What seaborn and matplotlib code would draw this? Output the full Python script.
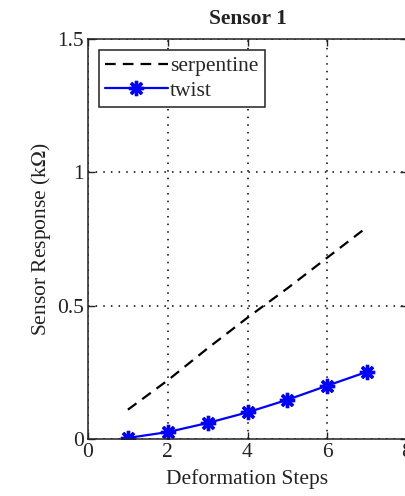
import matplotlib
matplotlib.use("Agg")
import matplotlib.pyplot as plt
import seaborn as sns
import pandas as pd
import numpy as np

steps = [1, 2, 3, 4, 5, 6, 7]
serpentine = [0.11, 0.22, 0.34, 0.455, 0.565, 0.68, 0.795]
twist = [0.004, 0.026, 0.06, 0.10, 0.147, 0.20, 0.252]
x_ticks = [0, 2, 4, 6, 8]
y_ticks = [0, 0.5, 1, 1.5]
y_tick_labels = ["0", "0.5", "1", "1.5"]

sns.set_style("ticks")
plt.rcParams['font.family'] = ['Liberation Serif', 'DejaVu Serif']
plt.rcParams['mathtext.fontset'] = 'stix'

df = pd.DataFrame({
    "step": steps * 2,
    "value": serpentine + twist,
    "series": ["serpentine"] * len(steps) + ["twist"] * len(steps),
})

fig = plt.figure(figsize=(4.05, 4.96), dpi=100)
ax = fig.add_axes([88 / 405, 1 - 439 / 496, (407 - 88) / 405, (439 - 39) / 496])

sns.lineplot(data=df[df.series == "serpentine"], x="step", y="value", ax=ax,
             color="black", linewidth=1.6, label="serpentine")
sns.lineplot(data=df[df.series == "twist"], x="step", y="value", ax=ax,
             color="#0000ff", linewidth=1.6, label="twist")
ax.lines[0].set_dashes((4.8, 3.2))
tl = ax.lines[1]
tl.set_marker((8, 2, 0))
tl.set_markersize(11)
tl.set_markeredgewidth(2.4)
tl.set_markeredgecolor("#0000ff")
tl.set_markerfacecolor("#0000ff")

ax.set_xlim(0, 8)
ax.set_ylim(0, 1.5)
ax.set_xticks(x_ticks)
ax.set_yticks(y_ticks)
ax.set_yticklabels(y_tick_labels)
ax.grid(True, color="black", linestyle=(0, (1, 4)), linewidth=1.1)
ax.tick_params(direction="in", top=True, right=True, length=5, width=1,
               labelsize=15.5, colors="#222222", labelcolor="#222222", pad=3)
for s in ax.spines.values():
    s.set_color("#222222")
    s.set_linewidth(1.1)

ax.set_xlabel("Deformation Steps", fontsize=15.5, color="#222222", labelpad=5)
ax.set_ylabel("Sensor Response (k$\\Omega$)", fontsize=15.5, color="#222222", labelpad=3)
ax.set_title("Sensor 1", fontsize=15.5, fontweight="bold", color="#222222", pad=11)

leg = ax.legend(loc="upper left", fontsize=15.5, frameon=True, fancybox=False,
                framealpha=1, edgecolor="#222222", handlelength=2.9,
                borderaxespad=0.5, borderpad=0.3, labelspacing=0.2,
                handletextpad=0.1)
leg.get_frame().set_linewidth(1.1)

fig.savefig("out.png", dpi=100)
